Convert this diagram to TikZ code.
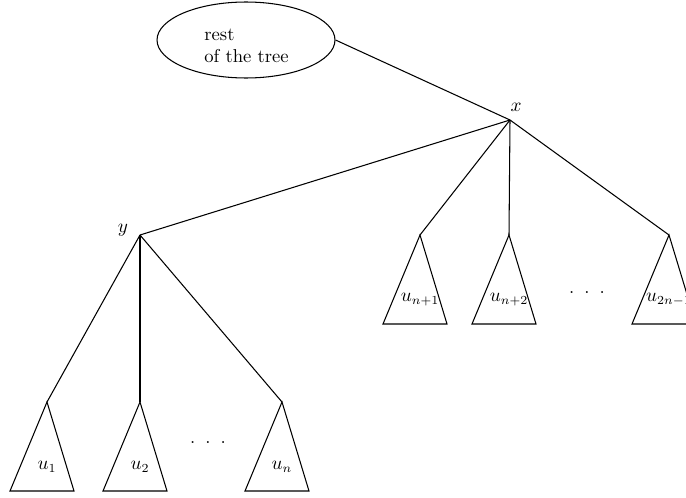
\documentclass[tikz,border=0pt]{standalone}
\usetikzlibrary{shapes.geometric,calc}

\newcommand{\subtree}[3]{%
  \draw[edge] (#1) -- ++(-37,89) -- ++(64,0) -- cycle;
  \node[leaf] (#2) at ($(#1)+(0,65)$) {#3};}

\begin{document}
\begin{tikzpicture}[x=0.02cm, y=-0.02cm,
        every node/.style={font=\fontsize{10.6pt}{12.4pt}\selectfont},
        edge/.style={line width=0.6pt},
        rest/.style={ellipse, draw, line width=0.6pt, minimum width=3.56cm, minimum height=1.52cm},
        leaf/.style={inner sep=0pt},
        vlabel/.style={inner sep=0pt},
        gap/.style={inner sep=0pt}
    ]
    \useasboundingbox (0,0) rectangle (686,497);
    \clip (0,0) rectangle (686,497);

    % rest of the tree
    \node[rest] (tree) at (246,40) {};
    \node[align=left, anchor=west, inner sep=0pt] (treetext) at (204,46) {rest\\of the tree};

    % inner vertices
    \coordinate (x) at (510,120);
    \coordinate (y) at (140,235);
    \node[vlabel] (xlab) at (516,107) {$x$};
    \node[vlabel] (ylab) at (123,230) {$y$};

    % subtree roots
    \coordinate (a1) at (47,402);
    \coordinate (a2) at (140,402);
    \coordinate (an) at (282,402);
    \coordinate (b1) at (420,235);
    \coordinate (b2) at (509,235);
    \coordinate (bn) at (669,235);

    % edges
    \draw[edge] (tree.east) -- (x);
    \draw[edge] (x) -- (y);
    \draw[edge] (x) -- (b1);
    \draw[edge] (x) -- (b2);
    \draw[edge] (x) -- (bn);
    \draw[edge] (y) -- (a1);
    \draw[edge] (y) -- (a2);
    \draw[edge] (y) -- (an);

    % subtrees
    \subtree{a1}{u1}{$u_1$}
    \subtree{a2}{u2}{$u_2$}
    \subtree{an}{un}{$u_n$}
    \subtree{b1}{v1}{$u_{n+1}$}
    \subtree{b2}{v2}{$u_{n+2}$}
    \subtree{bn}{vn}{$u_{2n-1}$}

    \node[gap] (dotslow) at (208,443) {.\hspace{5.7pt}.\hspace{5.7pt}.};
    \node[gap] (dotshigh) at (587,293) {.\hspace{5.7pt}.\hspace{5.7pt}.};
\end{tikzpicture}
\end{document}
